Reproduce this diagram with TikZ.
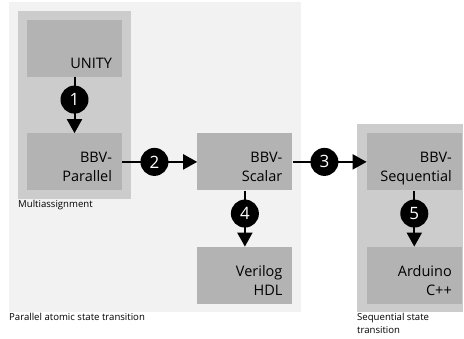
\documentclass[tikz,border=0pt]{standalone}
\usepackage{fontspec}
\setmainfont{Open Sans}
\usetikzlibrary{arrows.meta,positioning}
\definecolor{bgpar}{HTML}{F2F2F2}
\definecolor{grp}{HTML}{CCCCCC}
\definecolor{stg}{HTML}{B3B3B3}
\begin{document}
\begin{tikzpicture}[x=1pt,y=-1pt,>={Triangle[length=14pt,width=15pt]},
	stage/.style={fill=stg,minimum width=95pt,minimum height=57pt,inner sep=0pt},
	stagetxt/.style={anchor=south east,align=right,inner sep=0pt,text depth=0pt,xshift=-10pt,yshift=8.5pt,font=\fontsize{14.5}{19}\selectfont},
	num/.style={circle,fill=black,text=white,minimum size=28pt,inner sep=0pt,font=\fontsize{17}{17}\selectfont},
	arr/.style={->,line width=2pt},
	caption/.style={anchor=north west,align=left,inner sep=0pt,font=\fontsize{9.6}{13}\selectfont}]
	\useasboundingbox (0,0) rectangle (464,339);
	% regions
	\fill[bgpar] (9,2) rectangle (301,312);
	\fill[grp] (18,11) rectangle (131,199);
	\fill[grp] (357,124) rectangle (463,312);
	% stages
	\node[stage] (unity) at (74.5,48.5) {};
	\node[stage,below=56pt of unity] (par) {};
	\node[stage,right=75pt of par] (scal) {};
	\node[stage,below=56pt of scal] (veri) {};
	\node[stage,right=74pt of scal] (seq) {};
	\node[stage,below=56pt of seq] (ard) {};
	\node[stagetxt] (unityt) at (unity.south east) {UNITY};
	\node[stagetxt] (part) at (par.south east) {BBV-\\Parallel};
	\node[stagetxt] (scalt) at (scal.south east) {BBV-\\Scalar};
	\node[stagetxt] (verit) at (veri.south east) {Verilog\\HDL};
	\node[stagetxt] (seqt) at (seq.south east) {BBV-\\Sequential};
	\node[stagetxt] (ardt) at (ard.south east) {Arduino\\C++};
	% transitions
	\draw[arr] (unity) -- node[num,pos=0.4] (n1) {1} (par);
	\draw[arr] (par) -- node[num,pos=0.43] (n2) {2} (scal);
	\draw[arr] (scal) -- node[num,pos=0.43] (n3) {3} (seq);
	\draw[arr] (scal) -- node[num,pos=0.41] (n4) {4} (veri);
	\draw[arr] (seq) -- node[num,pos=0.41] (n5) {5} (ard);
	% captions
	\node[caption] (multi) at (18,200.5) {Multiassignment};
	\node[caption] (patomic) at (9,313.5) {Parallel atomic state transition};
	\node[caption] (sstate) at (357,313.5) {Sequential state\\transition};
\end{tikzpicture}
\end{document}
